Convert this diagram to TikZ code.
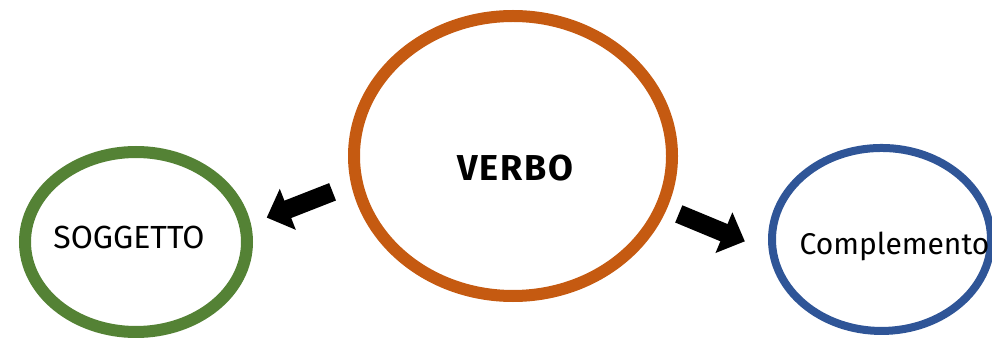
\documentclass[tikz,border=0pt]{standalone}
\usepackage{fontspec}
\setmainfont{Fira Sans}
\usepackage{xcolor}
\usepackage{tikz}
\usetikzlibrary{arrows.meta,positioning,shapes.geometric}
\definecolor{verboorange}{HTML}{C55A11}
\definecolor{soggreen}{HTML}{548235}
\definecolor{compblue}{HTML}{2F5597}

\begin{document}
\begin{tikzpicture}[x=0.75pt, y=-0.75pt, every node/.style={font=\fontsize{24}{28}\selectfont},
  bubble/.style={draw,ellipse,inner sep=0pt,line width=9pt},
  blockarrow/.style={line width=14pt,-{Triangle[length=17pt,width=32pt]}}]
\useasboundingbox (0,0) rectangle (992,338);
\node[bubble,draw=verboorange,minimum width=238.5pt,minimum height=210pt,
  label={[xshift=1.5pt,yshift=-9pt,font=\fontsize{27}{30}\selectfont\bfseries\addfontfeatures{LetterSpace=5}]center:VERBO}] (verbo) at (513,156) {};
\node[bubble,draw=soggreen,left=71.25pt of verbo,yshift=-64.5pt,minimum width=166.5pt,minimum height=135pt,
  label={[xshift=-5.25pt,yshift=3.75pt]center:SOGGETTO}] (sogg) {};
\node[bubble,draw=compblue,line width=6pt,right=67.5pt of verbo,yshift=-62.6pt,minimum width=164.25pt,minimum height=137.25pt,
  label={[xshift=9.75pt,yshift=-5.25pt,font=\fontsize{22.5}{26}\selectfont]center:Complemento}] (comp) {};
\draw[blockarrow,shorten <=15pt,shorten >=12.75pt] (verbo.190) -- (sogg.9);
\draw[blockarrow,shorten <=9.75pt,shorten >=19.5pt] (verbo.341) -- (comp.186.5);
\end{tikzpicture}
\end{document}
